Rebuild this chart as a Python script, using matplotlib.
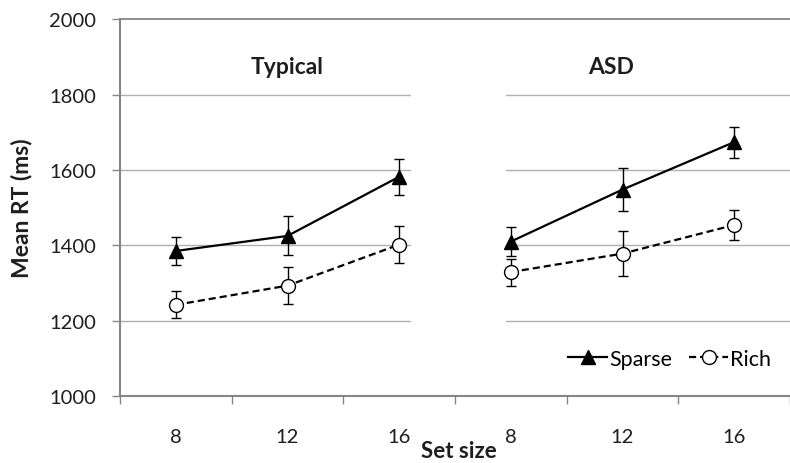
import numpy as np
import matplotlib
matplotlib.use("Agg")
import matplotlib.pyplot as plt
from matplotlib.patches import Rectangle
from matplotlib.lines import Line2D

plt.rcParams["font.family"] = ["Lato", "DejaVu Sans"]

# ---- data ----
set_sizes = ["8", "12", "16", "8", "12", "16"]
groups = ["Typical", "ASD"]
sparse_typ = [1385, 1425, 1582]
sparse_typ_err = [36, 52, 48]
rich_typ = [1242, 1293, 1402]
rich_typ_err = [36, 50, 48]
sparse_asd = [1410, 1548, 1674]
sparse_asd_err = [38, 58, 41]
rich_asd = [1329, 1378, 1454]
rich_asd_err = [36, 60, 41]

grey = "#868686"
grid_grey = "#b0b0b0"
txt = "#1e1e1e"

fig = plt.figure(figsize=(7.9, 4.64), dpi=100)
ax = fig.add_axes([120 / 790, 67 / 464, 670 / 790, 376.7 / 464])

x_typ = np.arange(3)
x_asd = np.arange(3, 6)

for xs, sp, spe, ri, rie in [
    (x_typ, sparse_typ, sparse_typ_err, rich_typ, rich_typ_err),
    (x_asd, sparse_asd, sparse_asd_err, rich_asd, rich_asd_err),
]:
    ax.errorbar(xs, sp, yerr=spe, color="black", lw=1.6, marker="^", ms=10,
                mfc="black", mec="black", elinewidth=1, capsize=3.5, capthick=1,
                zorder=4)
    ax.errorbar(xs, ri, yerr=rie, color="black", lw=1.6, ls=(0, (3.2, 1.8)),
                marker="o", ms=10, mfc="white", mec="black", mew=1,
                elinewidth=1, capsize=3.5, capthick=1, zorder=4)

ax.set_ylim(1000, 2000)
ax.set_xlim(-0.5, -0.5 + 670 / 113)

# gridlines
for yv in [1200, 1400, 1600, 1800]:
    ax.axhline(yv, color=grid_grey, lw=1, zorder=1)
ax.axhline(2000, color=grey, lw=1.3, zorder=1, clip_on=False)

# white gap between groups
ax.add_patch(Rectangle((2.105, 1150), 0.85, 835, facecolor="white",
                       edgecolor="none", zorder=2))

for s in ["top", "right"]:
    ax.spines[s].set_visible(False)
for s in ["left", "bottom"]:
    ax.spines[s].set_color(grey)
    ax.spines[s].set_linewidth(1.5)

ax.set_yticks([1000, 1200, 1400, 1600, 1800, 2000])
ax.tick_params(axis="y", length=6, width=1, color=grey, labelsize=14.5,
               pad=11, labelcolor=txt)

ax.set_xticks(np.arange(-0.5, 6, 1))
ax.set_xticklabels([])
ax.tick_params(axis="x", which="major", length=6, width=1, color=grey)
ax.set_xticks(np.arange(6), minor=True)
ax.set_xticklabels(set_sizes, minor=True)
ax.tick_params(axis="x", which="minor", length=0, pad=23, labelsize=14.5,
               labelcolor=txt)

# group titles
ax.text(1.0, 1875, groups[0], ha="center", va="center", fontsize=16.5,
        fontweight="bold", color=txt)
ax.text(3.9, 1875, groups[1], ha="center", va="center", fontsize=16.5,
        fontweight="bold", color=txt)

fig.text(22 / 790, 1 - 208 / 464, "Mean RT (ms)", rotation=90, ha="center",
         va="center", fontsize=16.5, fontweight="bold", color=txt)
fig.text(459 / 790, 1 - 452 / 464, "Set size", ha="center", va="center",
         fontsize=16, fontweight="bold", color=txt)

handles = [
    Line2D([], [], color="black", lw=1.6, marker="^", ms=10, mfc="black"),
    Line2D([], [], color="black", lw=1.6, ls=(0, (3.2, 1.8)), marker="o",
           ms=10, mfc="white", mew=1),
]
fig.legend(handles, ["Sparse", "Rich"], loc="center right",
           bbox_to_anchor=(782 / 790, 1 - 360 / 464), ncol=2, frameon=False,
           fontsize=15.5, handlelength=1.8, handletextpad=0.1,
           columnspacing=0.8, borderpad=0)

fig.savefig("out.png", dpi=100)
